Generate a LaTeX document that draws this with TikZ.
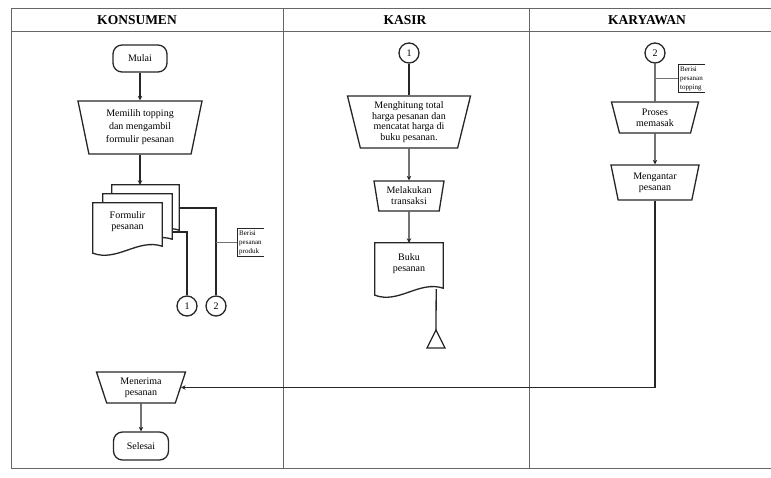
\documentclass[tikz,border=0pt]{standalone}
\usepackage{fontspec}
\setmainfont{Liberation Serif}
\usetikzlibrary{shapes.geometric,arrows.meta,calc,backgrounds}
\newcommand{\docpath}[1]{\draw[ln, fill=white] (#1.north west) -- (#1.north east) -- ($(#1.south east)+(0,-7)$) .. controls ($(#1.south east)!0.35!(#1.south west)+(0,-15)$) and ($(#1.south east)!0.65!(#1.south west)+(0,9)$) .. (#1.south west) -- cycle;}
\begin{document}
\begin{tikzpicture}[x=1pt,y=-1pt,
  every node/.style={font=\fontsize{10}{11}\selectfont},
  ln/.style={draw=black!85, line width=1.3pt},
  arr/.style={ln, -{Stealth[length=4.5pt,width=4.5pt]}},
  lane/.style={draw=black!60, line width=1pt},
  hdr/.style={font=\bfseries\fontsize{13.5}{15}\selectfont},
  term/.style={draw=black!85, line width=1.3pt, rounded corners=9pt, minimum width=54pt, minimum height=27pt, inner sep=0pt},
  manop/.style={trapezium, shape border rotate=180, draw=black!85, line width=1.3pt, trapezium stretches body, inner sep=0pt, align=center},
  conn/.style={circle, draw=black!85, line width=1.3pt, minimum size=20pt, inner sep=0pt},
  docbox/.style={minimum width=#1, minimum height=52pt, inner sep=0pt, align=center},
  note/.style={font=\fontsize{7}{9}\selectfont, align=left, inner sep=0pt, anchor=west},
  notebr/.style={draw=black!85, line width=1pt},
  noteln/.style={draw=black!55, line width=0.6pt}
]
\useasboundingbox (0,0) rectangle (771,477);

% swimlanes
\draw[lane] (11,8) -- (771,8);
\draw[lane] (11,31) -- (771,31);
\draw[lane] (11,8) -- (11,468);
\draw[lane] (283,8) -- (283,468);
\draw[lane] (529,8) -- (529,468);
\draw[lane] (11,468) -- (771,468);
\node[hdr] (h1) at (137,20) {KONSUMEN};
\node[hdr] (h2) at (405,20) {KASIR};
\node[hdr] (h3) at (647,20) {KARYAWAN};

% KONSUMEN
\node[term] (mulai) at (140,58.5) {Mulai};
\node[manop, minimum width=124pt, minimum height=53pt, trapezium angle=72.7, font=\fontsize{10}{13}\selectfont] (pilih) at (140,127.5) {Memilih topping\\dan mengambil\\formulir pesanan};
\node[docbox=67pt] (formC) at (145.5,211) {};
\node[docbox=69pt] (formB) at (137.5,220) {};
\node[docbox=69pt, minimum height=50pt, text depth=14pt] (formA) at (127.5,228) {Formulir\\pesanan};
\node[conn] (k1) at (187,306) {1};
\node[conn] (k2) at (216,306) {2};
\node[note] (ann1) at (239,242.5) {Berisi\\pesanan\\produk};

\draw[arr] (mulai) -- (pilih);
\draw[arr] (pilih.south) -- (pilih.south |- formC.north);
\draw[ln] ($(formC.east)+(0,-3)$) -| (k2);
\draw[ln] ($(formB.east)+(0,12)$) -| (k1);
\draw[noteln] (k2 |- ann1.west) -- ($(ann1.west)+(-2,0)$);
\draw[notebr] ($(ann1.north east)+(2,-2)$) -- ($(ann1.north west)+(-2,-2)$) -- ($(ann1.south west)+(-2,2)$) -- ($(ann1.south east)+(2,2)$);

\node[manop, minimum width=89pt, minimum height=31pt, trapezium angle=62.7] (terima) at (141,387.5) {Menerima\\pesanan};
\node[term, minimum width=55pt, minimum height=28pt] (selesai) at (141,446) {Selesai};
\draw[arr] (terima) -- (selesai);

% KASIR
\node[conn] (k1b) at (409,53) {1};
\node[manop, minimum width=123pt, minimum height=52pt, trapezium angle=72.4, font=\fontsize{10}{10.5}\selectfont] (hitung) at (409,122) {Menghitung total\\harga pesanan dan\\mencatat harga di\\buku pesanan.};
\node[manop, minimum width=70pt, minimum height=30pt, trapezium angle=75] (transaksi) at (409,196) {Melakukan\\transaksi};
\node[docbox=68pt, text depth=12pt] (buku) at (409,269) {Buku\\pesanan};
\coordinate (arsip) at (436,330);
\draw[ln] (k1b) -- (hitung);
\draw[arr] (hitung) -- (transaksi);
\draw[arr] (transaksi) -- (buku);
\draw[ln] ($(buku.south east)+(-7,-6)$) -- (arsip);
\draw[ln] (arsip) -- ++(9,18) -- ++(-18,0) -- cycle;

% KARYAWAN
\node[conn] (k2b) at (655,53) {2};
\node[manop, minimum width=87pt, minimum height=31pt, trapezium angle=65.7] (masak) at (655,117.5) {Proses\\memasak};
\node[manop, minimum width=88pt, minimum height=35pt, trapezium angle=70] (antar) at (655,182.5) {Mengantar\\pesanan};
\node[note] (ann2) at (680,78.5) {Berisi\\pesanan\\topping};
\draw[ln] (k2b) -- (masak);
\draw[noteln] (k2b |- ann2.west) -- ($(ann2.west)+(-2,0)$);
\draw[notebr] ($(ann2.north east)+(2,-2)$) -- ($(ann2.north west)+(-2,-2)$) -- ($(ann2.south west)+(-2,2)$) -- ($(ann2.south east)+(2,2)$);
\draw[arr] (masak) -- (antar);
\draw[arr] (antar.south) |- (terima.east);

% documents (behind text)
\begin{scope}[on background layer]
\docpath{formC}
\docpath{formB}
\docpath{formA}
\docpath{buku}
\end{scope}
\end{tikzpicture}
\end{document}
